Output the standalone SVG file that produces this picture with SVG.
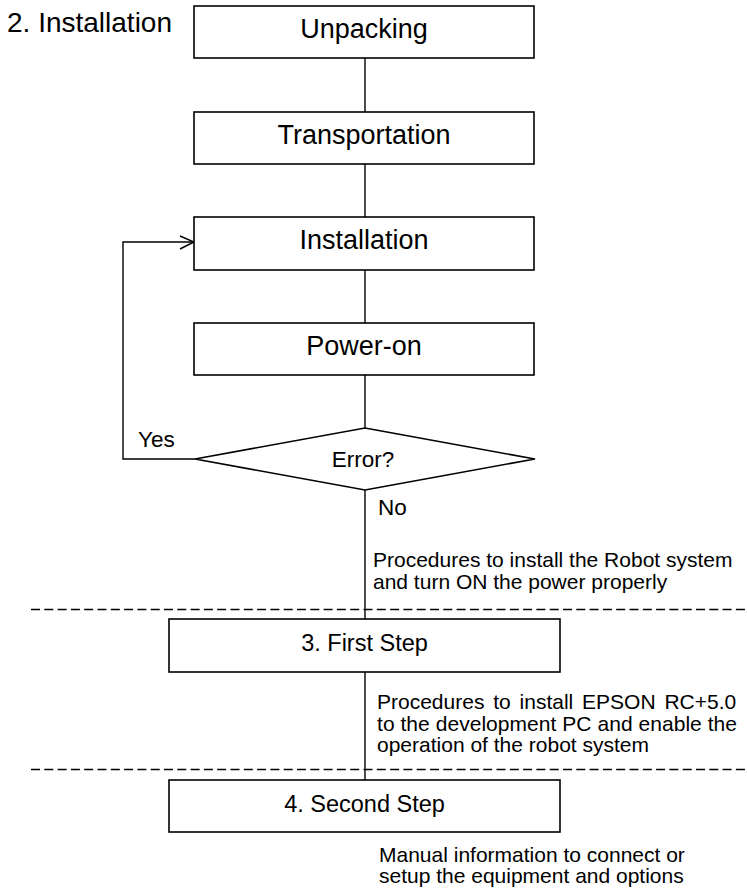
<svg xmlns="http://www.w3.org/2000/svg" width="747" height="888" viewBox="0 0 747 888">
<style>
text{font-family:"Liberation Sans",Arial,sans-serif;fill:#000}
.box{fill:#fff;stroke:#000;stroke-width:1.6}
.big{font-size:27px;text-anchor:middle}
.step{font-size:23.5px;text-anchor:middle}
.lbl{font-size:22.5px}
.note{font-size:21px}
.ln{fill:none;stroke:#000;stroke-width:1.4}
.dash{fill:none;stroke:#000;stroke-width:1.5;stroke-dasharray:9 4.3}
</style>
<rect width="747" height="888" fill="#fff"/>
<text x="7" y="32" font-size="28">2. Installation</text>
<g id="connectors">
<line class="ln" x1="365" y1="58" x2="365" y2="112"/>
<line class="ln" x1="365" y1="164" x2="365" y2="217"/>
<line class="ln" x1="365" y1="270" x2="365" y2="323"/>
<line class="ln" x1="365" y1="375" x2="365" y2="428"/>
<line class="ln" x1="365" y1="490" x2="365" y2="619"/>
<line class="ln" x1="365" y1="672" x2="365" y2="780"/>
<polyline class="ln" points="195,459 123,459 123,242 193,242"/>
<polyline class="ln" points="180,236 194,242 180,249"/>
</g>
<line class="dash" x1="31" y1="609.5" x2="747" y2="609.5"/>
<line class="dash" x1="31" y1="769.5" x2="747" y2="769.5"/>
<g id="unpacking"><rect class="box" x="194" y="6" width="340" height="52"/><text class="big" x="364" y="38">Unpacking</text></g>
<g id="transportation"><rect class="box" x="194" y="112" width="340" height="52"/><text class="big" x="364" y="144">Transportation</text></g>
<g id="installation"><rect class="box" x="194" y="217" width="340" height="53"/><text class="big" x="364" y="249">Installation</text></g>
<g id="poweron"><rect class="box" x="194" y="323" width="340" height="52"/><text class="big" x="364" y="355">Power-on</text></g>
<g id="error"><polygon class="box" points="365,428 535,459 365,490 195,459"/><text class="lbl" x="363" y="467" text-anchor="middle">Error?</text></g>
<text class="lbl" x="138" y="447">Yes</text>
<text class="lbl" x="378" y="515">No</text>
<text class="note" x="373" y="567">Procedures to install the Robot system</text>
<text class="note" x="373" y="589">and turn ON the power properly</text>
<g id="firststep"><rect class="box" x="169" y="619" width="391" height="53"/><text class="step" x="364.5" y="651">3. First Step</text></g>
<text class="note" x="377" y="709" word-spacing="3">Procedures to install EPSON RC+5.0</text>
<text class="note" x="377" y="731" textLength="360" lengthAdjust="spacing">to the development PC and enable the</text>
<text class="note" x="377" y="752">operation of the robot system</text>
<g id="secondstep"><rect class="box" x="169" y="780" width="391" height="52"/><text class="step" x="364.5" y="812">4. Second Step</text></g>
<text class="note" x="379" y="862">Manual information to connect or</text>
<text class="note" x="379" y="883">setup the equipment and options</text>
</svg>
